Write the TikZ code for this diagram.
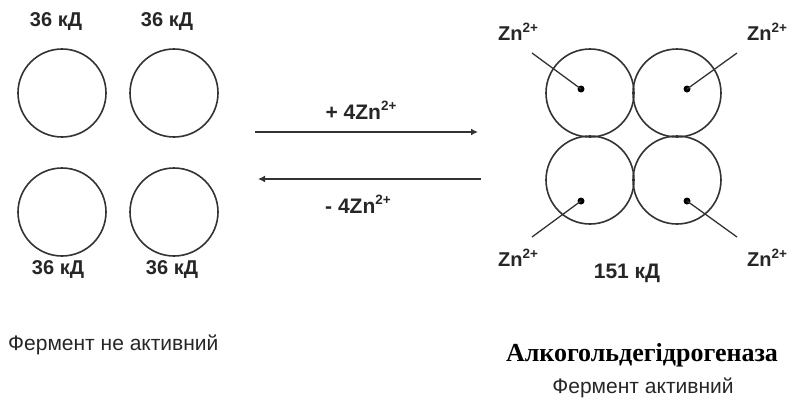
\documentclass[tikz,border=0pt]{standalone}
\usepackage{fontspec}
\setmainfont{Liberation Sans}
\newfontfamily\serifcyr{Liberation Serif}
\usetikzlibrary{arrows.meta}
\newcommand{\zsup}{\raisebox{0.42em}{\fontsize{13.5}{13.5}\selectfont 2+}}
\tikzset{
  sub/.style={circle,draw=black!80,line width=1.6pt,minimum size=88pt,inner sep=0pt},
  lbl/.style={font=\bfseries\fontsize{20}{22}\selectfont,text=black!85,inner sep=0pt},
  zn/.style={font=\bfseries\fontsize{20}{22}\selectfont,text=black!85,inner sep=0pt},
  captext/.style={font=\fontsize{21}{23}\selectfont,text=black!85,inner sep=0pt},
  dotnode/.style={circle,fill=black,inner sep=0pt,minimum size=7pt},
  conn/.style={draw=black!80,line width=1.3pt},
  rx/.style={draw=black!80,line width=1.6pt,-{Latex[length=7pt,width=7pt]}}
}
\begin{document}
\begin{tikzpicture}[x=1pt,y=-1pt]
\useasboundingbox (0,0) rectangle (792,408);
% left: four free subunits
\node[sub] (l1) at (62,93) {};
\node[sub] (l2) at (174,93) {};
\node[sub] (l3) at (62,212) {};
\node[sub] (l4) at (174,212) {};
\node[lbl] (t1) at (56,22) {36 кД};
\node[lbl] (t2) at (167,22) {36 кД};
\node[lbl] (t3) at (58,270) {36 кД};
\node[lbl] (t4) at (172,270) {36 кД};
% arrows
\coordinate (f1) at (255,132);
\coordinate (f2) at (478,132);
\coordinate (b1) at (481,179);
\coordinate (b2) at (258,179);
\draw[rx] (f1) -- (f2);
\draw[rx] (b1) -- (b2);
\node[lbl,font=\bfseries\fontsize{21}{23}\selectfont] (plus) at (361,110) {+ 4Zn\zsup};
\node[lbl,font=\bfseries\fontsize{21}{23}\selectfont] (minus) at (358,204) {- 4Zn\zsup};
% right: tetramer
\node[sub] (r1) at (590,93) {};
\node[sub] (r2) at (677,93) {};
\node[sub] (r3) at (590,180) {};
\node[sub] (r4) at (677,180) {};
\node[dotnode] (d1) at (581,89) {};
\node[dotnode] (d2) at (687,89) {};
\node[dotnode] (d3) at (581,201) {};
\node[dotnode] (d4) at (687,201) {};
\coordinate (e1) at (532,53);
\coordinate (e2) at (737,53);
\coordinate (e3) at (532,237);
\coordinate (e4) at (737,237);
\draw[conn] (e1) -- (d1.center);
\draw[conn] (e2) -- (d2.center);
\draw[conn] (e3) -- (d3.center);
\draw[conn] (e4) -- (d4.center);
\node[zn] (z1) at (518,32) {Zn\zsup};
\node[zn] (z2) at (767,32) {Zn\zsup};
\node[zn] (z3) at (518,258) {Zn\zsup};
\node[zn] (z4) at (767,258) {Zn\zsup};
\node[lbl,font=\bfseries\fontsize{21}{23}\selectfont] (mw) at (627,273) {151 кД};
% captions
\node[captext,anchor=west] (c1) at (8,345) {Фермент не активний};
\node[font=\serifcyr\bfseries\fontsize{26}{28}\selectfont,inner sep=0pt] (c2) at (642,355) {Алкогольдегідрогеназа};
\node[captext] (c3) at (643,388) {Фермент активний};
\end{tikzpicture}
\end{document}
